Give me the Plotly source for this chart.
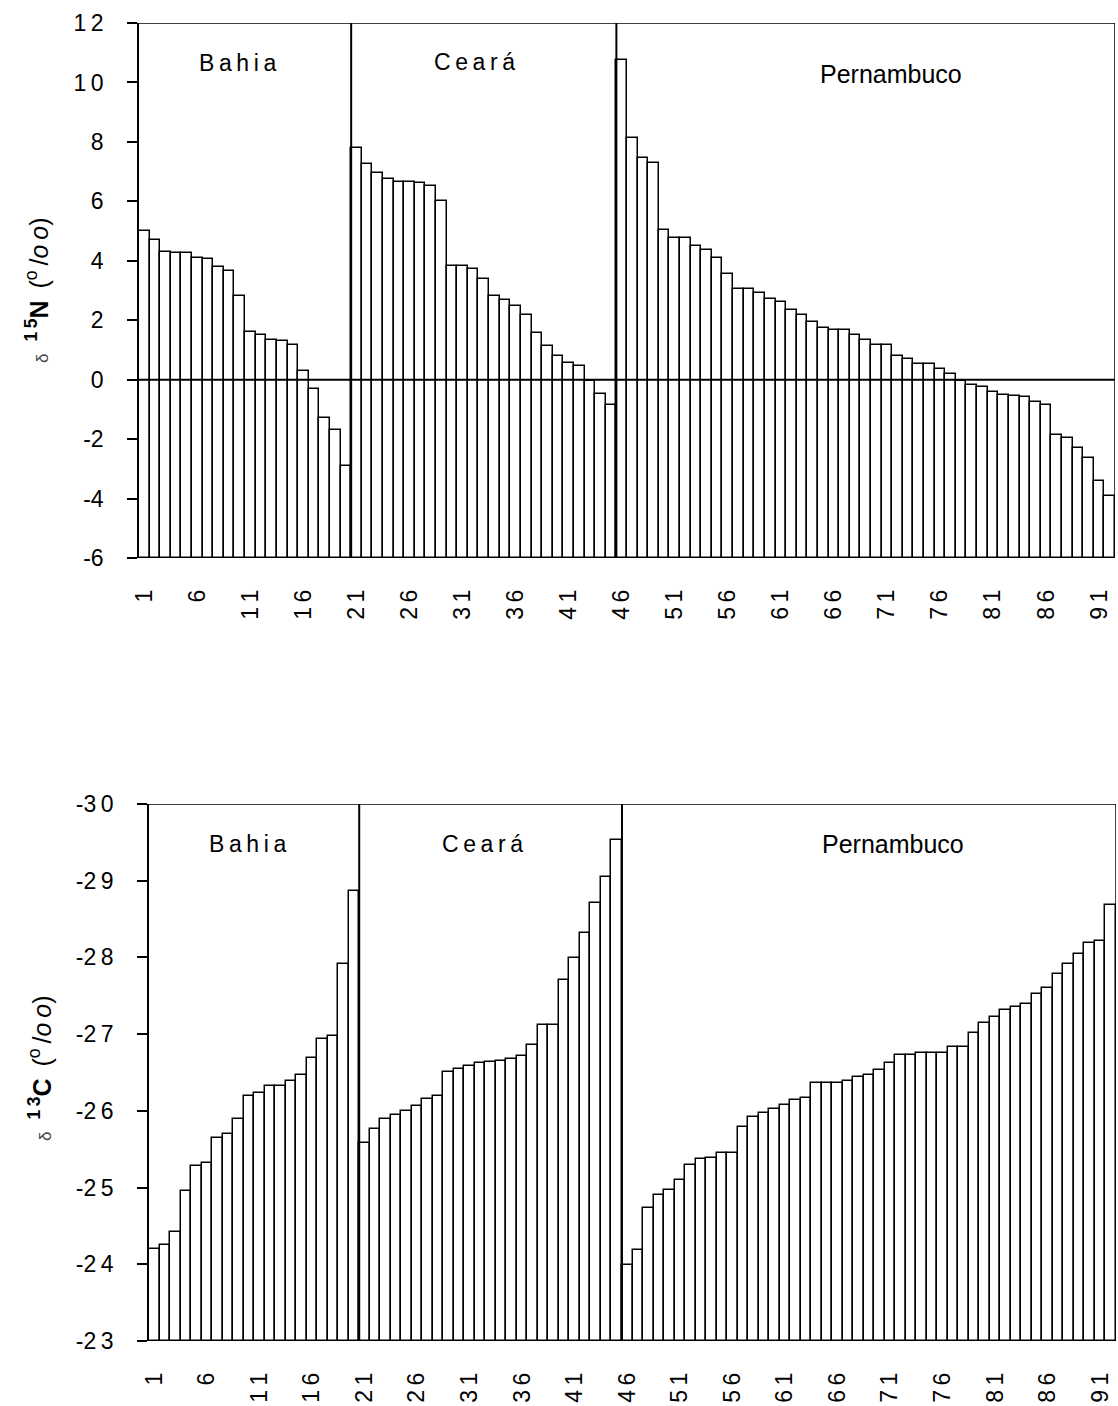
import plotly.graph_objects as go

# ---- data: isotope ratios per sample, grouped by state ----
samples = list(range(1, 93))
groups = ["Bahia", "Ceará", "Pernambuco"]

d15n_bahia = [5.0, 4.7, 4.3, 4.25, 4.25, 4.1, 4.05, 3.8, 3.65, 2.8,
              1.6, 1.5, 1.35, 1.3, 1.15, 0.3, -0.3, -1.3, -1.7, -2.9]
d15n_ceara = [7.78, 7.27, 6.94, 6.76, 6.66, 6.66, 6.63, 6.51, 6.0, 3.81,
              3.81, 3.74, 3.39, 2.8, 2.69, 2.47, 2.19, 1.57, 1.14, 0.81,
              0.56, 0.47, -0.06, -0.48, -0.84]
d15n_pern = [10.77, 8.14, 7.45, 7.29, 5.03, 4.75, 4.75, 4.51, 4.35, 4.1,
             3.56, 3.05, 3.05, 2.92, 2.7, 2.6, 2.36, 2.19, 1.93, 1.75,
             1.68, 1.66, 1.5, 1.33, 1.18, 1.18, 0.8, 0.7, 0.52, 0.52,
             0.36, 0.18, -0.03, -0.17, -0.25, -0.43, -0.5, -0.55, -0.58, -0.75,
             -0.85, -1.85, -1.96, -2.3, -2.64, -3.42, -3.93]

d13c_bahia = [-24.2, -24.25, -24.42, -24.95, -25.28, -25.32, -25.65, -25.7, -25.89, -26.19,
              -26.23, -26.32, -26.32, -26.39, -26.47, -26.69, -26.94, -26.97, -27.92, -28.86]
d13c_ceara = [-25.58, -25.76, -25.89, -25.95, -26.0, -26.06, -26.15, -26.19, -26.51, -26.55,
              -26.59, -26.62, -26.64, -26.65, -26.67, -26.72, -26.86, -27.12, -27.12, -27.7,
              -27.99, -28.32, -28.71, -29.05, -29.53]
d13c_pern = [-23.99, -24.19, -24.73, -24.9, -24.97, -25.1, -25.29, -25.37, -25.39, -25.45,
             -25.45, -25.79, -25.92, -25.97, -26.03, -26.08, -26.14, -26.17, -26.36, -26.36,
             -26.36, -26.39, -26.44, -26.47, -26.53, -26.62, -26.73, -26.73, -26.75, -26.75,
             -26.76, -26.83, -26.83, -27.02, -27.15, -27.22, -27.32, -27.36, -27.39, -27.52,
             -27.6, -27.79, -27.92, -28.05, -28.19, -28.22, -28.69]

sample_ticks = list(range(1, 92, 5))
n_ticks = [-6, -4, -2, 0, 2, 4, 6, 8, 10, 12]
c_ticks = [-30, -29, -28, -27, -26, -25, -24, -23]

d15n = d15n_bahia + d15n_ceara + d15n_pern
d13c = d13c_bahia + d13c_ceara + d13c_pern

# group boundaries (between samples)
n_b = len(d15n_bahia)
n_c = len(d15n_ceara)
splits = [n_b + 0.5, n_b + n_c + 0.5]
x_lo, x_hi = 0.5, len(samples) + 0.5

N_BASE, N_TOP = -6, 12
C_BASE, C_TOP = -23, -30

W, H = 1118, 1406
FONT = "Liberation Sans, Arial, sans-serif"
THIN = "\u2009"


def spaced(s):
    # wide tracking of the labels (the minus sign stays attached)
    s = str(s)
    if s.startswith("-"):
        return "-" + THIN.join(s[1:])
    return THIN.join(s)


bar_style = dict(color="white", line=dict(color="black", width=1.5))

fig = go.Figure()
fig.add_trace(go.Bar(
    x=samples, y=[v - N_BASE for v in d15n], base=N_BASE,
    customdata=d15n, hovertemplate="%{x}: %{customdata}<extra></extra>",
    width=1.0, marker=bar_style, xaxis="x", yaxis="y", showlegend=False))
fig.add_trace(go.Bar(
    x=samples, y=[v - C_BASE for v in d13c], base=C_BASE,
    customdata=d13c, hovertemplate="%{x}: %{customdata}<extra></extra>",
    width=1.0, marker=bar_style, xaxis="x2", yaxis="y2", showlegend=False))

tick_font = dict(family=FONT, size=23, color="black")

xcommon = dict(range=[x_lo, x_hi], showgrid=False, zeroline=False, showline=False,
               tickmode="array", tickvals=sample_ticks,
               ticktext=[spaced(t) for t in sample_ticks], automargin=False,
               tickangle=-90, ticks="", tickfont=tick_font, ticklabelstandoff=26)
ycommon = dict(showgrid=False, zeroline=False, showline=True, linecolor="black",
               linewidth=1.5, ticks="outside", ticklen=10, tickwidth=1.5,
               tickcolor="black", tickfont=tick_font, ticklabelstandoff=19,
               tickmode="array", automargin=False)

fig.update_layout(
    width=W, height=H, margin=dict(l=0, r=0, t=0, b=0, autoexpand=False),
    paper_bgcolor="white", plot_bgcolor="white", bargap=0,
    font=dict(family=FONT, color="black"),
    xaxis=dict(domain=[139 / W, 1115 / W], anchor="y", **xcommon),
    yaxis=dict(domain=[1 - 558 / H, 1 - 23 / H], anchor="x", range=[N_BASE, N_TOP],
               tickvals=n_ticks, ticktext=[spaced(t) for t in n_ticks], **ycommon),
    xaxis2=dict(domain=[149 / W, 1116 / W], anchor="y2", **xcommon),
    yaxis2=dict(domain=[1 - 1341 / H, 1 - 804 / H], anchor="x2", range=[C_BASE, C_TOP],
                tickvals=c_ticks, ticktext=[spaced(t) for t in c_ticks], **ycommon),
)

line = dict(color="black", width=1.5)
shapes = []
for xr, yr, y0, y1 in [("x", "y", N_BASE, N_TOP), ("x2", "y2", C_BASE, C_TOP)]:
    # frame top and right edge
    shapes.append(dict(type="line", xref=xr, yref=yr, x0=x_lo, x1=x_hi, y0=y1, y1=y1, line=line))
    shapes.append(dict(type="line", xref=xr, yref=yr, x0=x_hi, x1=x_hi, y0=y0, y1=y1, line=line))
    # separators between states
    for s in splits:
        shapes.append(dict(type="line", xref=xr, yref=yr, x0=s, x1=s, y0=y0, y1=y1,
                           line=dict(color="black", width=2)))
# zero reference line for delta-15N
shapes.append(dict(type="line", xref="x", yref="y", x0=x_lo, x1=x_hi, y0=0, y1=0,
                   line=dict(color="black", width=2), layer="above"))
fig.update_layout(shapes=shapes)

# state labels inside each panel
label_pos_n = [(9.8, 10.65, 23), (32.1, 10.69, 23), (71.4, 10.27, 25)]
label_pos_c = [(9.85, -29.48, 23), (32.2, -29.48, 23), (71.3, -29.48, 25)]
annotations = []
for (xr, yr, pos) in [("x", "y", label_pos_n), ("x2", "y2", label_pos_c)]:
    for name, (lx, ly, fs) in zip(groups, pos):
        txt = spaced(name) if name != "Pernambuco" else name
        annotations.append(dict(xref=xr, yref=yr, x=lx, y=ly, text=txt, showarrow=False,
                                xanchor="center", yanchor="middle",
                                font=dict(family=FONT, size=fs, color="black")))


def axis_title(mass, elem):
    return ("<span style='font-size:17px;color:#444'>δ</span>" + THIN + " "
            + "<b><sup>" + spaced(mass) + "</sup>" + elem + "</b>" + THIN + " "
            + "(<sup>o</sup>" + THIN + "/<i>o" + THIN + "o</i>)")


annotations.append(dict(xref="paper", yref="paper", x=37 / W, y=1 - 290 / H,
                        text=axis_title(15, "N"),
                        textangle=-90, showarrow=False, xanchor="center", yanchor="middle",
                        font=dict(family=FONT, size=25, color="black")))
annotations.append(dict(xref="paper", yref="paper", x=40 / W, y=1 - 1068 / H,
                        text=axis_title(13, "C"),
                        textangle=-90, showarrow=False, xanchor="center", yanchor="middle",
                        font=dict(family=FONT, size=25, color="black")))
fig.update_layout(annotations=annotations)

fig.write_html("out.html")
